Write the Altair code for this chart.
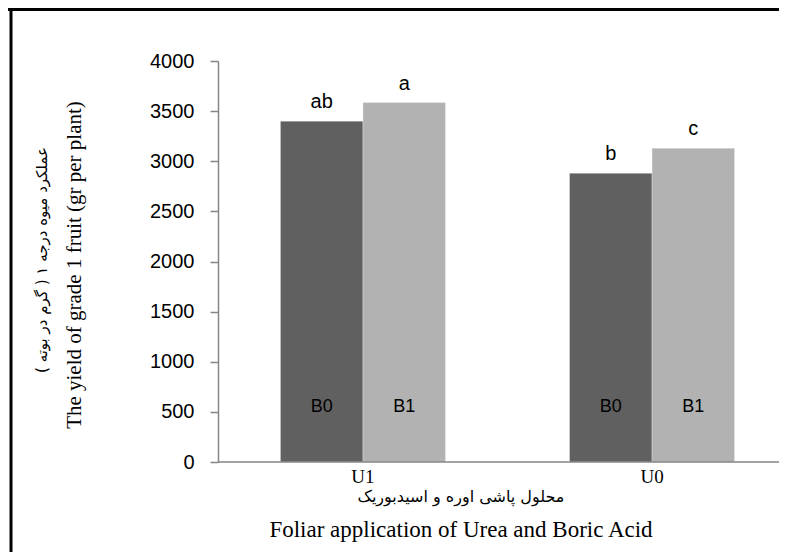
import altair as alt
import pandas as pd

# ---- data ----
urea = ["U1", "U1", "U0", "U0"]
boron = ["B0", "B1", "B0", "B1"]
yield_values = [3400, 3585, 2880, 3130]
letters = ["ab", "a", "b", "c"]
y_ticks = [0, 500, 1000, 1500, 2000, 2500, 3000, 3500, 4000]

df = pd.DataFrame({"U": urea, "B": boron, "value": yield_values, "letter": letters})

y_title_en = "The yield of grade 1 fruit (gr per plant)"
y_title_fa = "عملکرد میوه درجه ۱ ( گرم در بوته )"
x_title_en = "Foliar application of Urea and Boric Acid"
x_title_fa = "محلول پاشی اوره و اسیدبوریک"

W, H = 559, 401
PAD_L, PAD_T, PAD_B, PAD_R = 210, 53, 90, 2

x_enc = alt.X(
    "U:N",
    sort=["U1", "U0"],
    scale=alt.Scale(range=[0, 579], paddingInner=0.429, paddingOuter=0.216),
    axis=alt.Axis(
        title=None, labelAngle=0, labelFont="Liberation Serif", labelFontSize=19,
        labelColor="black", ticks=False, domain=False, labelPadding=5,
    ),
)
xo_enc = alt.XOffset("B:N", sort=["B0", "B1"])
y_enc = alt.Y(
    "value:Q",
    scale=alt.Scale(domain=[0, 4000]),
    axis=alt.Axis(
        title=None, values=y_ticks, format="d", grid=False, labelFont="Liberation Sans",
        labelFontSize=20, labelColor="black", tickColor="#868686", tickWidth=1.5,
        tickSize=8, domainColor="#868686", domainWidth=1.5, labelPadding=16,
    ),
)

base = alt.Chart(df)

bars = base.mark_bar(stroke="white", strokeWidth=0.5, strokeOpacity=0.6).encode(
    x=x_enc,
    xOffset=xo_enc,
    y=y_enc,
    color=alt.Color("B:N", scale=alt.Scale(domain=["B0", "B1"], range=["#606060", "#B2B2B2"]), legend=None),
)

letter_text = base.mark_text(
    font="Liberation Sans", fontSize=20, color="black", baseline="middle", dy=-19
).encode(x=x_enc, xOffset=xo_enc, y=y_enc, text="letter:N")

b_text = base.mark_text(
    font="Liberation Sans", fontSize=18, color="black", baseline="middle"
).encode(x=x_enc, xOffset=xo_enc, y=alt.datum(550), text="B:N")

def label(txt, x, y, size, font, angle=0):
    return alt.Chart(pd.DataFrame({"t": [txt]})).mark_text(
        font=font, fontSize=size, color="black", angle=angle,
        align="center", baseline="middle",
    ).encode(x=alt.value(x), y=alt.value(y), text="t:N")

ytitle_en = label(y_title_en, -143, 204, 21, "Liberation Serif", 270)
ytitle_fa = label(y_title_fa, -176, 199, 15, "DejaVu Sans", 270)
xtitle_fa = label(x_title_fa, 243, 436, 16, "DejaVu Sans")
xtitle_en = label(x_title_en, 243, 469, 23, "Liberation Serif")

one = pd.DataFrame({"a": [0]})
x_domain = alt.Chart(one).mark_rule(color="#868686", strokeWidth=1.5).encode(
    x=alt.value(0), x2=alt.value(W + PAD_R), y=alt.value(H)
)
border_left = alt.Chart(one).mark_rule(color="black", strokeWidth=3).encode(
    x=alt.value(-207), y=alt.value(-PAD_T), y2=alt.value(H + PAD_B)
)
border_top = alt.Chart(one).mark_rule(color="black", strokeWidth=3).encode(
    x=alt.value(-PAD_L), x2=alt.value(W + PAD_R), y=alt.value(-PAD_T + 1.5)
)

chart = alt.layer(
    bars, x_domain, letter_text, b_text, ytitle_en, ytitle_fa, xtitle_fa, xtitle_en,
    border_left, border_top
).properties(
    width=W, height=H,
    background="white",
    autosize=alt.AutoSizeParams(type="none"),
    padding={"left": PAD_L, "top": PAD_T, "right": PAD_R, "bottom": PAD_B},
).configure(
    view=alt.ViewConfig(strokeWidth=0, stroke="white", strokeOpacity=0)
)

chart.save("out.html", embed_options={"renderer": "svg", "actions": False})
